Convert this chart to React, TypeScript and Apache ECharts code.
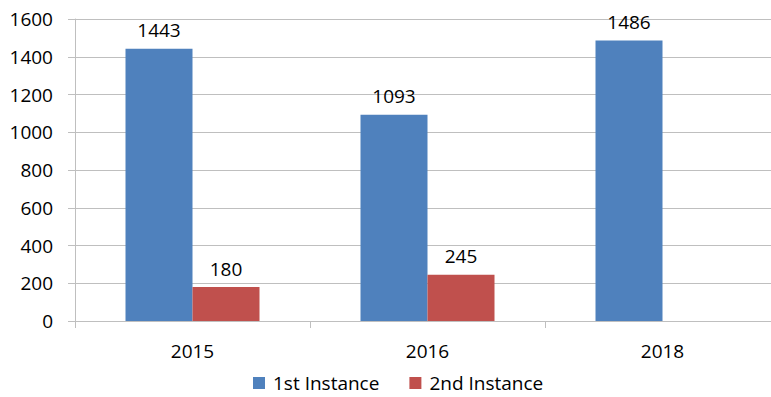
import React, { useEffect, useRef } from "react";
import * as echarts from "echarts";

const categories = ["2015", "2016", "2018"];
const firstInstance = [1443, 1093, 1486];
const secondInstance: (number | null)[] = [180, 245, null];
const yTicks = { min: 0, max: 1600, interval: 200 };

const FONT = "'Open Sans', sans-serif";
const GRAY = "#BFBFBF";

export default function App() {
  const ref = useRef<HTMLDivElement>(null);

  useEffect(() => {
    if (!ref.current) return;
    const chart = echarts.init(ref.current, undefined, { renderer: "svg" });
    const labelStyle = {
      show: true,
      position: "top" as const,
      distance: 9,
      color: "#000",
      fontSize: 19,
      fontFamily: FONT,
    };
    chart.setOption({
      animation: false,
      backgroundColor: "#fff",
      textStyle: { fontFamily: FONT },
      grid: { left: 75, right: 0, top: 19, bottom: 76, containLabel: false },
      legend: {
        left: 253,
        top: 372,
        padding: 0,
        itemWidth: 12,
        itemHeight: 12,
        itemGap: 30,
        icon: "rect",
        textStyle: {
          fontSize: 19,
          color: "#000",
          fontFamily: FONT,
          lineHeight: 22,
          padding: [0, 0, 0, 3],
        },
        data: ["1st Instance", "2nd Instance"],
      },
      xAxis: {
        type: "category",
        data: categories,
        axisLine: { show: true, lineStyle: { color: GRAY } },
        axisTick: { show: true, length: 7, alignWithLabel: false, lineStyle: { color: GRAY } },
        axisLabel: { color: "#000", fontSize: 19, fontFamily: FONT, margin: 20 },
      },
      yAxis: {
        type: "value",
        min: yTicks.min,
        max: yTicks.max,
        interval: yTicks.interval,
        axisLine: { show: true, lineStyle: { color: GRAY } },
        axisTick: { show: true, length: 7, lineStyle: { color: GRAY } },
        splitLine: { show: true, lineStyle: { color: GRAY } },
        axisLabel: {
          color: "#000",
          fontSize: 19,
          fontFamily: FONT,
          margin: 22,
          formatter: (v: number) => String(v),
        },
      },
      series: [
        {
          name: "1st Instance",
          type: "bar",
          data: firstInstance,
          barWidth: 67,
          barGap: "0%",
          itemStyle: { color: "#4F81BD" },
          label: labelStyle,
        },
        {
          name: "2nd Instance",
          type: "bar",
          data: secondInstance,
          barWidth: 67,
          barGap: "0%",
          itemStyle: { color: "#C0504D" },
          label: labelStyle,
        },
      ],
    });
    return () => chart.dispose();
  }, []);

  return (
    <div
      style={{
        position: "fixed",
        left: 0,
        top: 0,
        width: 771,
        height: 397,
        overflow: "hidden",
        background: "#fff",
      }}
    >
      <div ref={ref} style={{ width: 780, height: 397 }} />
    </div>
  );
}
